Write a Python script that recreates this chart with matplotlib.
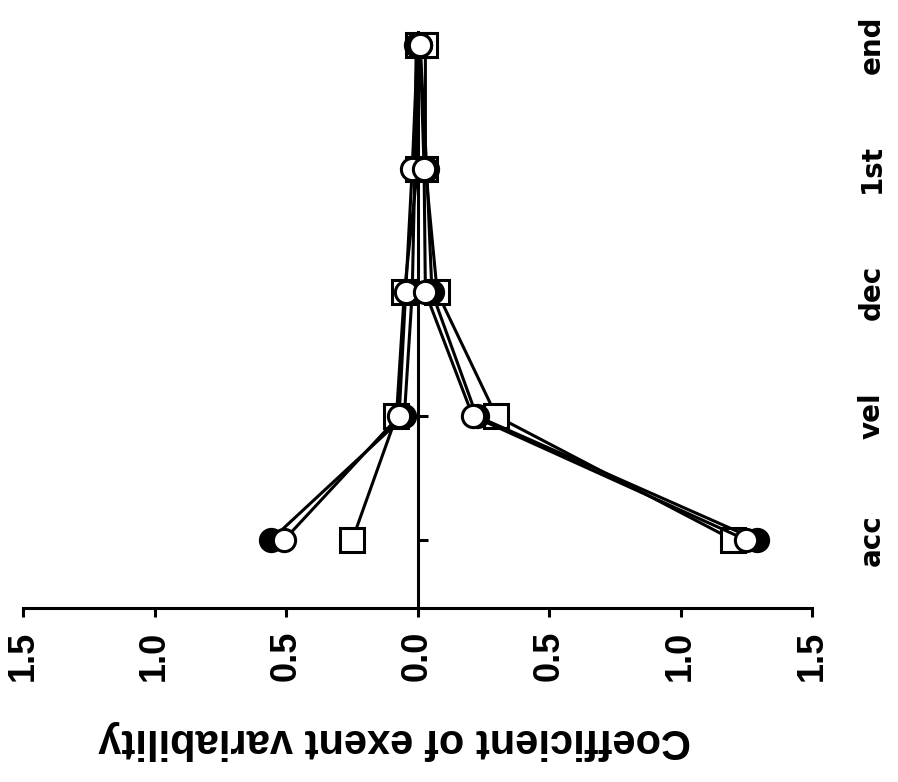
import matplotlib
matplotlib.use("Agg")
import matplotlib.pyplot as plt
import matplotlib.transforms as mtransforms

# movement phases (bottom to top)
phases = ["acc", "vel", "dec", "1st", "end"]
positions = [0, 1, 2, 3, 4]

# left-hand group (plotted to the left of zero)
left_filled = [0.557, 0.05, 0.02, 0.01, 0.005]
left_open = [0.507, 0.07, 0.045, 0.02, 0.0]
left_square = [0.248, 0.08, 0.05, 0.0, 0.0]

# right-hand group (plotted to the right of zero)
right_square = [1.20, 0.30, 0.075, 0.03, 0.03]
right_filled = [1.29, 0.225, 0.055, 0.035, 0.01]
right_open = [1.25, 0.21, 0.03, 0.025, 0.01]

tick_values = [-1.5, -1.0, -0.5, 0.0, 0.5, 1.0, 1.5]
tick_labels = ["1.5", "1.0", "0.5", "0.0", "0.5", "1.0", "1.5"]

fig = plt.figure(figsize=(8.98, 7.82), dpi=100)
ax = fig.add_axes([23 / 898, 174 / 782, 789 / 898, 588 / 782])

lw = 2.2
sq = dict(marker="s", markersize=17, markerfacecolor="white",
          markeredgecolor="black", markeredgewidth=lw, color="black", lw=lw)
filled = dict(marker="o", markersize=16, markerfacecolor="black",
              markeredgecolor="black", markeredgewidth=lw, color="black", lw=lw)
opened = dict(marker="o", markersize=16, markerfacecolor="white",
              markeredgecolor="black", markeredgewidth=lw, color="black", lw=lw)

ax.plot([-v for v in left_square], positions, zorder=3, **sq)
ax.plot(right_square, positions, zorder=3, **sq)
ax.plot([-v for v in left_filled], positions, zorder=4, **filled)
ax.plot(right_filled, positions, zorder=4, **filled)
ax.plot([-v for v in left_open], positions, zorder=5, **opened)
ax.plot(right_open, positions, zorder=5, **opened)

ax.set_xlim(-1.5, 1.5)
ax.set_ylim(-0.55, 4.2)

ax.spines["top"].set_visible(False)
ax.spines["right"].set_visible(False)
ax.spines["bottom"].set_linewidth(lw)
ax.spines["left"].set_position(("data", 0))
ax.spines["left"].set_linewidth(lw)
ax.spines["left"].set_bounds(-0.55, 4.1)

ax.set_xticks(tick_values)
ax.set_xticklabels(tick_labels, rotation=90, fontsize=26,
                   fontweight="bold", family="Liberation Sans")
ax.tick_params(axis="x", direction="out", length=6.5, width=lw, pad=10)

ax.set_yticks(positions)
ax.set_yticklabels([])
ax.tick_params(axis="y", direction="in", length=7, width=lw)

# phase names along the right side
trans = mtransforms.blended_transform_factory(ax.transAxes, ax.transData)
for p, name in zip(positions, phases):
    ax.text(1.076, p, name, rotation=90, ha="center", va="center",
            fontsize=20, fontweight="bold", family="DejaVu Sans",
            transform=trans)

fig.text(395 / 898, 1 - 740 / 782, "Coefficient of exent variability",
         rotation=180, ha="center", va="center", fontsize=30,
         fontweight="bold", family="Liberation Sans")

fig.savefig("out.png", dpi=100)
